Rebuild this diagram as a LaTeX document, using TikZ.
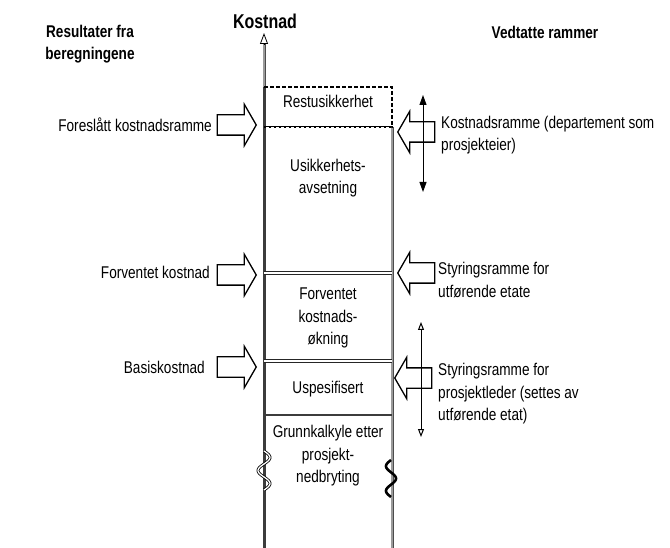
\documentclass[tikz,border=0pt]{standalone}
\usepackage{fontspec}
\setmainfont{Liberation Sans}[FakeStretch=0.8]
\usetikzlibrary{arrows.meta,positioning,shapes.arrows,calc}
\definecolor{AxisGray}{RGB}{130,130,130}
\definecolor{EdgeDark}{RGB}{60,60,60}
\begin{document}
\begin{tikzpicture}[
  x=1pt, y=-1pt,
  txt/.style={font=\fontsize{17}{22.5}\selectfont, inner sep=0pt, align=center},
  headtxt/.style={font=\fontsize{17}{22}\selectfont\bfseries, inner sep=0pt, align=center},
  blockarr/.style={single arrow, draw=black, line width=1.3pt, inner xsep=0pt, inner ysep=9.5pt,
    single arrow head extend=10.5pt, single arrow tip angle=120},
  toright/.style={blockarr, minimum height=39pt},
  toleft/.style={blockarr, shape border rotate=180, minimum height=37pt},
  sepline/.style={draw=black!85, line width=0.9pt, double=white, double distance=1.4pt},
  edgeline/.style={draw=black!70, line width=0.8pt, double=AxisGray!80, double distance=1.4pt},
  spanline/.style={line width=1pt}
]
  \useasboundingbox (0,0) rectangle (670,548);

  % cost axis and column
  \coordinate (base) at (264,548);
  \coordinate (boxtop) at (264,87);
  \coordinate (tipfoot) at (264,44);
  \coordinate (axtop) at (264,33);
  \draw[edgeline] (boxtop) -- (tipfoot);
  \draw[line width=0.8pt, -{Triangle[open, length=11pt, width=8pt]}] (tipfoot) -- (axtop);
  \draw[EdgeDark, line width=3pt] (boxtop) -- (base);
  \draw[edgeline] (392,127) -- (392,548);

  % level lines
  \draw[line width=1.4pt, dash pattern=on 4pt off 2pt] (264,87) -- (392,87) -- (392,127);
  \draw[line width=2.2pt] (264,127) -- (393,127);
  \draw[white, line width=0.7pt, dash pattern=on 3pt off 2pt] (266,127) -- (391,127);
  \draw[sepline] (264,273) -- (392,273);
  \draw[sepline] (264,361) -- (392,361);
  \draw[line width=2.2pt, EdgeDark] (264,415) -- (392,415);

  % breaks in the column
  \draw[draw=black, line width=0.8pt, double=white, double distance=1.3pt]
    plot[domain=0:1, samples=50, smooth] ({264+6*sin(540*\x)}, {451+39*\x});
  \draw[line width=2.6pt]
    plot[domain=0:1, samples=50, smooth] ({391-5*sin(540*\x)}, {460+37*\x});

  % column texts
  \node[txt] (rest) at (328,101) {Restusikkerhet};
  \node[txt] (usik) at (328,178) {Usikkerhets-\\avsetning};
  \node[txt] (fkost) at (328,318) {Forventet\\kostnads-\\økning};
  \node[txt] (uspes) at (328,389) {Uspesifisert};
  \node[txt] (grunn) at (328,456) {Grunnkalkyle etter\\prosjekt-\\nedbryting};

  % headings
  \node[font=\fontsize{20}{22}\selectfont\bfseries, inner sep=0pt] (kostnad) at (265,21) {Kostnad};
  \node[headtxt] (resultat) at (90,44) {Resultater fra\\beregningene};
  \node[headtxt] (vedtatt) at (545,32) {Vedtatte rammer};

  % results from the estimates
  \node[txt, anchor=east] (foreslatt) at (212,125) {Foreslått kostnadsramme};
  \node[txt, anchor=east] (forventet) at (210,272) {Forventet kostnad};
  \node[txt, anchor=east] (basis) at (205,367) {Basiskostnad};
  \node[toright, anchor=tip] (arfor) at (257,125) {};
  \node[toright, anchor=tip] (arfkost) at (257,275) {};
  \node[toright, anchor=tip] (arbasis) at (257,367) {};

  % adopted frames
  \node[toleft, anchor=tip] (arkr) at (397,132) {};
  \node[toleft, anchor=tip] (arsu) at (397,273) {};
  \node[toleft, anchor=tip] (arsp) at (394,378) {};
  \node[txt, anchor=west, align=left] (kramme) at (441,135) {Kostnadsramme (departement som\\prosjekteier)};
  \node[txt, anchor=west, align=left] (srutf) at (438,280) {Styringsramme for\\utførende etate};
  \node[txt, anchor=west, align=left] (srpro) at (438,394) {Styringsramme for\\prosjektleder (settes av\\utførende etat)};

  \coordinate (kr1) at (423,95);
  \coordinate (kr2) at (423,192);
  \draw[spanline, {Triangle[length=10pt, width=7pt]}-{Triangle[length=10pt, width=7pt]}] (kr1) -- (kr2);
  \coordinate (sp1) at (421,322);
  \coordinate (sp2) at (421,437);
  \draw[spanline, {Triangle[open, length=8pt, width=6pt]}-{Triangle[open, length=8pt, width=6pt]}] (sp1) -- (sp2);
\end{tikzpicture}
\end{document}
